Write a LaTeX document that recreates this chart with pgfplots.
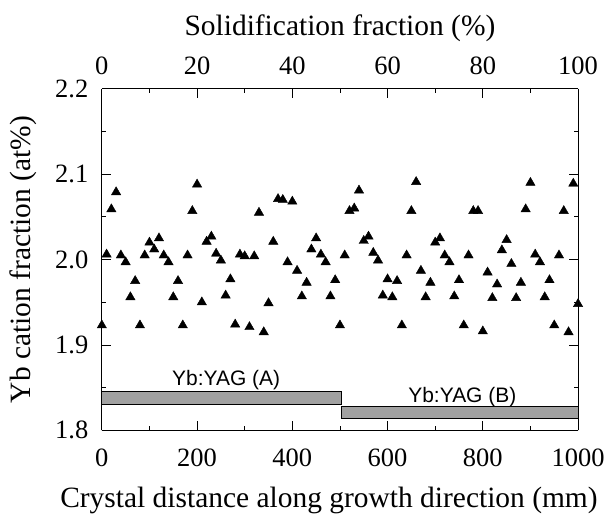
\documentclass[border=0pt]{standalone}
\usepackage{fontspec}
\usepackage{pgfplots}
\pgfplotsset{compat=1.18}
\usepackage{pgfplotstable}
\setmainfont{Liberation Serif}
\newfontfamily\labelsans{Liberation Sans}

% Yb concentration along the boule (distance in mm, fraction in at%)
\pgfplotstableread{
x y
0 1.923
10 2.006
20 2.059
30 2.079
40 2.005
50 1.997
60 1.956
70 1.975
80 1.923
90 2.005
100 2.020
110 2.012
120 2.025
130 2.005
140 1.997
150 1.956
160 1.975
170 1.923
180 2.005
190 2.057
200 2.088
210 1.950
220 2.021
230 2.027
240 2.007
250 1.999
260 1.958
270 1.977
280 1.924
290 2.006
300 2.004
310 1.921
320 2.004
330 2.055
340 1.915
350 1.949
360 2.021
370 2.071
380 2.070
390 1.997
400 2.068
410 1.987
420 1.957
430 1.973
440 2.012
450 2.025
460 2.006
470 1.997
480 1.957
490 1.976
500 1.923
510 2.005
520 2.057
530 2.060
540 2.081
550 2.022
560 2.027
570 2.008
580 1.999
590 1.958
600 1.977
610 1.956
620 1.975
630 1.923
640 2.005
650 2.057
660 2.091
670 1.987
680 1.956
690 1.973
700 2.020
710 2.025
720 2.005
730 1.997
740 1.957
750 1.976
760 1.923
770 2.005
780 2.057
790 2.057
800 1.916
810 1.985
820 1.955
830 1.971
840 2.011
850 2.023
860 1.995
870 1.955
880 1.973
890 2.059
900 2.090
910 2.006
920 1.997
930 1.956
940 1.976
950 1.923
960 2.005
970 2.057
980 1.915
990 2.089
1000 1.948
}\ybdata

\begin{document}
\begin{tikzpicture}
\pgfplotsset{
  every axis/.append style={
    scale only axis, width=477pt, height=342pt,
    font=\fontsize{26.5}{30}\selectfont,
    /pgf/number format/assume math mode=true,
    /pgf/number format/1000 sep={},
    tick align=inside, major tick length=9pt, minor tick length=4.5pt,
    every tick/.style={black, line width=0.8pt},
    axis line style={line width=0.9pt},
    label style={font=\fontsize{29.5}{34}\selectfont},
  }
}
\begin{axis}[
  name=main,
  xmin=0, xmax=1000, ymin=1.8, ymax=2.2,
  xtick={0,200,...,1000}, minor x tick num=1,
  ytick={1.8,1.9,2.0,2.1,2.2}, minor y tick num=1,
  yticklabel style={xshift=-10pt, /pgf/number format/fixed,
    /pgf/number format/fixed zerofill, /pgf/number format/precision=1},
  xticklabel style={yshift=-15pt},
  axis x line*=bottom, axis y line*=box,
  xlabel={Crystal distance along growth direction (mm)},
  ylabel={Yb cation fraction (at\%)},
  xlabel style={at={(axis description cs:0.5,0)}, anchor=base, yshift=-77pt, xshift=-11pt},
  ylabel style={at={(axis description cs:0,0.5)}, anchor=center, yshift=79pt},
  clip=false,
]
\addplot[draw=black, fill=black!37, line width=0.8pt]
  coordinates {(0,1.8299) (503,1.8299) (503,1.8458) (0,1.8458)} -- cycle;
\addplot[draw=black, fill=black!37, line width=0.8pt]
  coordinates {(503,1.8135) (1000,1.8135) (1000,1.8275) (503,1.8275)} -- cycle;
\node[font=\labelsans\fontsize{21}{24}\selectfont] at (axis cs:261,1.859) {Yb:YAG (A)};
\node[font=\labelsans\fontsize{21}{24}\selectfont] at (axis cs:757,1.839) {Yb:YAG (B)};
\addplot[only marks, mark=triangle*, mark size=5.4pt, black] table[x=x, y=y] {\ybdata};
\end{axis}
\begin{axis}[
  at={(main.south west)}, anchor=south west,
  xmin=0, xmax=100, ymin=1.8, ymax=2.2,
  axis x line*=top, axis y line=none,
  xtick={0,20,...,100}, minor x tick num=1,
  xticklabel style={yshift=11pt},
  xlabel={Solidification fraction (\%)},
  xlabel style={at={(axis description cs:0.5,1)}, anchor=base, yshift=53pt},
]
\end{axis}
\pgfresetboundingbox
\path ([shift={(-102pt,-88pt)}]main.south west) rectangle ([shift={(30pt,89pt)}]main.north east);
\end{tikzpicture}
\end{document}
